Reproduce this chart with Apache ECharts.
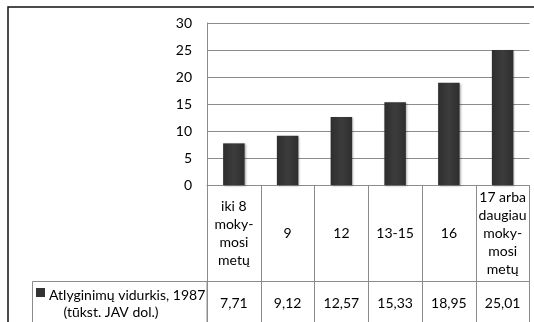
<!DOCTYPE html>
<html>
<head>
<meta charset="utf-8">
<script src="https://cdn.jsdelivr.net/npm/echarts@6/dist/echarts.min.js"></script>
<style>
html,body{margin:0;padding:0;background:#fff;}
#main{width:534px;height:322px;}
</style>
</head>
<body>
<div id="main"></div>
<script>
var categories = ["iki 8\nmoky-\nmosi\nmetų", "9", "12", "13-15", "16", "17 arba\ndaugiau\nmoky-\nmosi\nmetų"];
var values = [7.71, 9.12, 12.57, 15.33, 18.95, 25.01];
var seriesNameLine1 = "Atlyginimų vidurkis, 1987";
var seriesNameLine2 = "(tūkst. JAV dol.)";
var yTicks = [0, 5, 10, 15, 20, 25, 30];

var FONT = "Lato";
var GRID = "#8c8c8c";
var valueLabels = values.map(function (v) { return v.toFixed(2).replace('.', ','); });

var chart = echarts.init(document.getElementById('main'), null, {renderer: 'canvas'});
chart.setOption({
  animation: false,
  backgroundColor: '#fff',
  textStyle: {fontFamily: FONT},
  grid: {left: 207, right: 4.5, top: 23, bottom: 137, containLabel: false},
  xAxis: [{
    type: 'category',
    data: categories,
    gridIndex: 0,
    position: 'bottom',
    axisLine: {show: true, lineStyle: {color: GRID, width: 1}},
    axisTick: {show: true, length: 145, lineStyle: {color: GRID, width: 1}},
    axisLabel: {interval: 0, margin: 48, verticalAlign: 'middle', align: 'center', lineHeight: 18, fontSize: 14, color: '#000', fontFamily: FONT}
  }, {
    type: 'category',
    data: valueLabels,
    gridIndex: 0,
    position: 'bottom',
    offset: 96,
    axisLine: {show: true, lineStyle: {color: GRID, width: 1}},
    axisTick: {show: false},
    axisLabel: {interval: 0, margin: 22, verticalAlign: 'middle', align: 'center', fontSize: 14, color: '#000', fontFamily: FONT}
  }],
  yAxis: {
    type: 'value',
    min: yTicks[0],
    max: yTicks[yTicks.length - 1],
    interval: yTicks[1] - yTicks[0],
    axisLine: {show: true, lineStyle: {color: GRID, width: 1}},
    axisTick: {show: false},
    axisLabel: {margin: 15, fontSize: 14, color: '#000', fontFamily: FONT},
    splitLine: {show: true, lineStyle: {color: GRID, width: 1}}
  },
  series: [{
    type: 'bar',
    name: seriesNameLine1,
    xAxisIndex: 0,
    data: values,
    barWidth: '40%',
    itemStyle: {
      color: new echarts.graphic.LinearGradient(0, 0, 1, 0, [
        {offset: 0, color: '#2e2e2e'},
        {offset: 0.5, color: '#3c3c3c'},
        {offset: 1, color: '#2e2e2e'}
      ]),
      shadowBlur: 2,
      shadowColor: 'rgba(0,0,0,0.3)',
      shadowOffsetX: 1,
      shadowOffsetY: 1
    }
  }],
  graphic: [
    {type: 'rect', shape: {x: 8, y: 7, width: 700, height: 500}, style: {fill: 'none', stroke: '#111', lineWidth: 1.5}, silent: true},
    {type: 'rect', shape: {x: 32.5, y: 281.5, width: 174.5, height: 80}, style: {fill: 'none', stroke: GRID, lineWidth: 1}, silent: true},
    {type: 'rect', shape: {x: 36, y: 288, width: 9, height: 9}, style: {fill: '#333', stroke: 'none'}, silent: true},
    {type: 'text', x: 49, y: 295, style: {text: seriesNameLine1, fontFamily: FONT, fontSize: 14, fill: '#000', verticalAlign: 'middle', align: 'left'}, silent: true},
    {type: 'text', x: 111, y: 312, style: {text: seriesNameLine2, fontFamily: FONT, fontSize: 14, fill: '#000', verticalAlign: 'middle', align: 'center'}, silent: true}
  ]
});
</script>
</body>
</html>
